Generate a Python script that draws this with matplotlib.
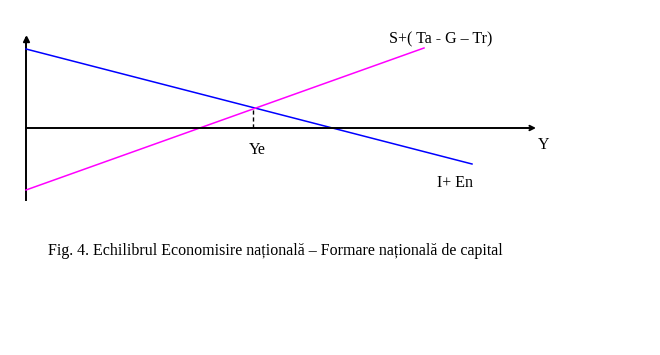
import matplotlib
matplotlib.use("Agg")
import matplotlib.pyplot as plt

plt.rcParams['font.family'] = ['Liberation Serif', 'DejaVu Serif']

# data units: 1 unit = 10 px on the reference, origin at the axes crossing
invest_x = [0.0, 44.6]      # I+ En
invest_y = [7.9, -3.6]
saving_x = [0.0, 39.8]      # S+(Ta - G - Tr)
saving_y = [-6.2, 8.0]
ye = 22.7
x_axis_end = 51.0
y_axis_top = 9.3
y_axis_bottom = -7.2

fig = plt.figure(figsize=(6.6, 3.55), dpi=100)
ax = fig.add_axes([0, 0, 1, 1])
ax.set_xlim(-2.6, 63.4)
ax.set_ylim(-22.7, 12.8)
ax.axis('off')

# axes with arrows
ax.plot([0, 0], [y_axis_bottom, y_axis_top - 0.3], color='black', lw=1.4)
ax.plot(0, y_axis_top - 0.4, marker='^', ms=5, color='black')
ax.annotate('', xy=(x_axis_end, 0), xytext=(0, 0),
            arrowprops=dict(arrowstyle='->', color='black', lw=1.4,
                            shrinkA=0, shrinkB=0, mutation_scale=8))

ax.plot(invest_x, invest_y, color='#0000ff', lw=1.1)
ax.plot(saving_x, saving_y, color='#ff00ff', lw=1.1)

# equilibrium drop line
ye_y = invest_y[0] + (invest_y[1] - invest_y[0]) * ye / invest_x[1]
ax.plot([ye, ye], [0, ye_y], color='black', lw=1, ls=(0, (3, 2)))

fs = 11.5
ax.text(ye + 0.4, -1.4, 'Ye', ha='center', va='top', fontsize=fs)
ax.text(51.2, -0.9, 'Y', ha='left', va='top', fontsize=fs)
ax.text(36.3, 8.9, 'S+( Ta - G \u2013 Tr)', ha='left', va='center', fontsize=fs)
ax.text(41.1, -5.5, 'I+ En', ha='left', va='center', fontsize=fs)
ax.text(2.2, -12.3, 'Fig. 4. Echilibrul Economisire na\u021bional\u0103 \u2013 '
        'Formare na\u021bional\u0103 de capital', ha='left', va='center', fontsize=fs)

fig.savefig('out.png', dpi=100)
